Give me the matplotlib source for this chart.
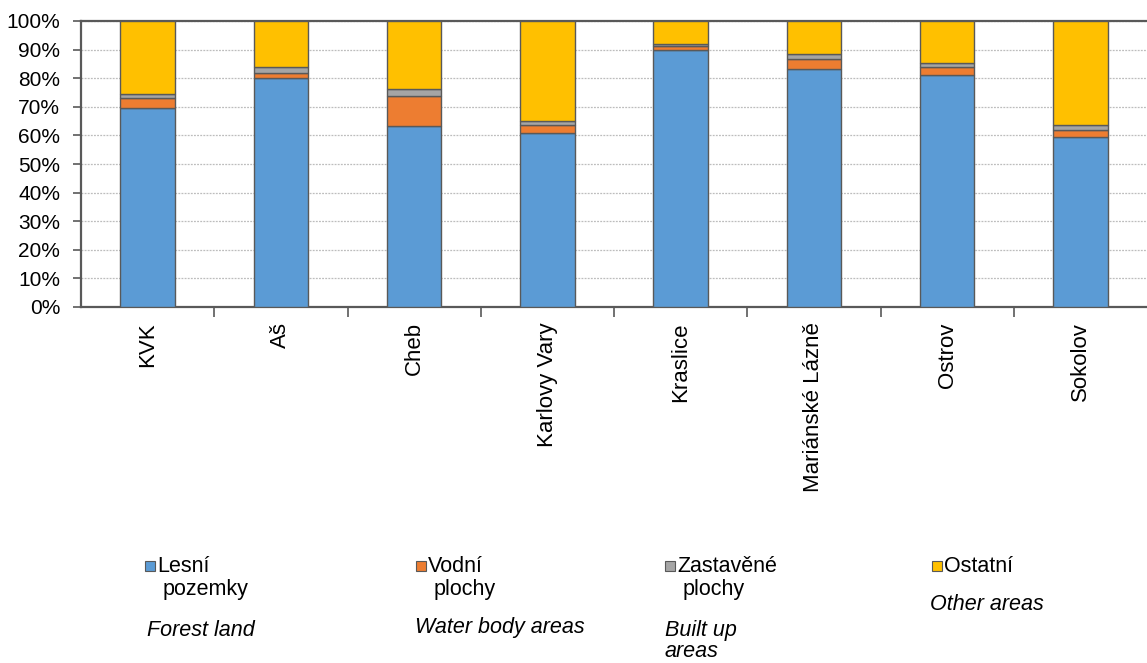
import matplotlib.pyplot as plt
from matplotlib.patches import Rectangle
from matplotlib.ticker import PercentFormatter, FixedLocator
import numpy as np

plt.rcParams['font.family'] = ['Liberation Sans', 'DejaVu Sans']

# data (shares in %)
regions = ['KVK', 'Aš', 'Cheb', 'Karlovy Vary', 'Kraslice',
           'Mariánské Lázně', 'Ostrov', 'Sokolov']
forest = [69.5, 80.2, 63.2, 60.7, 89.7, 83.2, 81.0, 59.3]
water = [3.5, 1.6, 10.5, 2.8, 1.6, 3.5, 2.8, 2.5]
built = [1.5, 2.0, 2.6, 1.5, 0.8, 1.6, 1.4, 1.7]
other = [25.5, 16.2, 23.7, 35.0, 7.9, 11.7, 14.8, 36.5]

series_cz = ['Lesní\npozemky', 'Vodní\nplochy', 'Zastavěné\nplochy', 'Ostatní']
series_en = ['Forest land', 'Water body areas', 'Built up\nareas', 'Other areas']
colors = ['#5B9BD5', '#ED7D31', '#A5A5A5', '#FFC000']

fig = plt.figure(figsize=(11.47, 6.63), dpi=100)
ax = fig.add_axes([81 / 1147, 1 - 307 / 663, 1 - 81 / 1147, (307 - 21) / 663])

x = np.arange(len(regions))
bottom = np.zeros(len(regions))
for vals, c in zip([forest, water, built, other], colors):
    ax.bar(x, vals, width=0.41, bottom=bottom, color=c,
           edgecolor='#595959', linewidth=1, zorder=3)
    bottom += np.array(vals)

ax.set_xlim(-0.5, len(regions) - 0.5)
ax.set_ylim(0, 100)
ax.set_yticks(np.arange(0, 101, 10))
ax.yaxis.set_major_formatter(PercentFormatter(decimals=0))
ax.grid(axis='y', linestyle=(0, (1.5, 1)), color='#BDBDBD', linewidth=0.9, zorder=0)

ax.set_xticks(x)
ax.set_xticklabels(regions, rotation=90, fontsize=16, va='top')
ax.tick_params(axis='x', which='major', length=0, pad=11)
ax.xaxis.set_minor_locator(FixedLocator(np.arange(0.5, len(regions) - 0.5, 1)))
ax.tick_params(axis='x', which='minor', length=7, width=1.2, color='#595959')
ax.tick_params(axis='y', length=6, width=1.2, color='#595959', labelsize=15, pad=9)

for s in ['left', 'bottom', 'top']:
    ax.spines[s].set_color('#595959')
    ax.spines[s].set_linewidth(1.6)
ax.spines['right'].set_visible(False)

# custom legend below the chart
leg_x = [150, 421, 670, 937]
en_y = [630, 627, 641, 605]
en_dx = [-3, -6, -5, -7]
for i in range(4):
    px = leg_x[i] / 1147
    fig.patches.append(Rectangle((px - 5 / 1147, 1 - 571 / 663), 10 / 1147, 10 / 663,
                                 transform=fig.transFigure, facecolor=colors[i],
                                 edgecolor='#595959', linewidth=0.8))
    first, second = series_cz[i].split('\n') if '\n' in series_cz[i] else (series_cz[i], '')
    fig.text(px + 7 / 1147, 1 - 566 / 663, first, fontsize=15.5, va='center', ha='left')
    if second:
        fig.text(px + 13 / 1147, 1 - 589 / 663, second, fontsize=15.5, va='center', ha='left')
    fig.text((leg_x[i] + en_dx[i]) / 1147, 1 - en_y[i] / 663, series_en[i],
             fontsize=15.5, style='italic', va='center', ha='left', linespacing=1.05)

fig.savefig('out.png', dpi=100)
